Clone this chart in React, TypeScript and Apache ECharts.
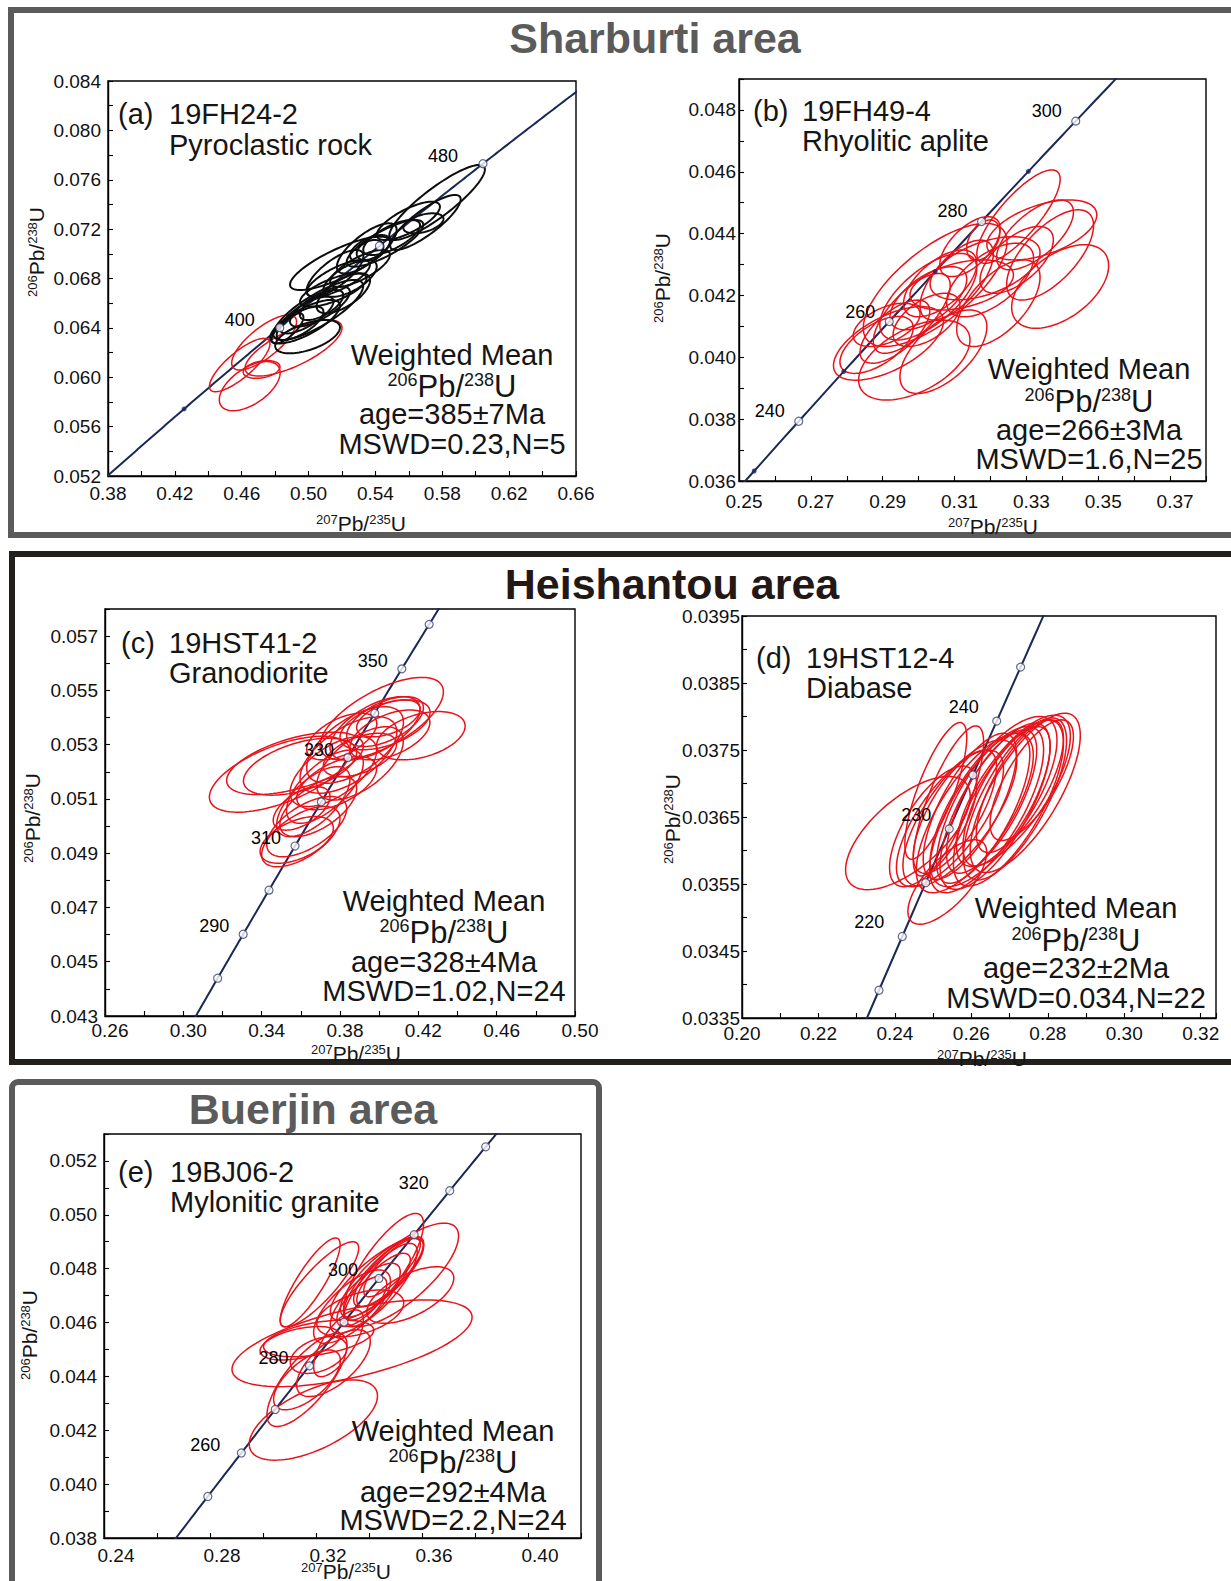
import React, { useEffect, useRef } from 'react';
import * as echarts from 'echarts';

const FONT = '"Liberation Sans", Arial, Helvetica, sans-serif';
const RED = '#e8121a';
const NAVY = '#1b2756';

// U-Pb decay constants (per year) used to draw the concordia reference curve
const LAMBDA_238 = 1.55125e-10;
const LAMBDA_235 = 9.8485e-10;

// axis ranges [min, max, tick step]
const xAxisA = [0.38, 0.66, 0.02];
const yAxisA = [0.052, 0.084, 0.002];
const xAxisB = [0.25, 0.38, 0.01];
const yAxisB = [0.036, 0.049, 0.001];
const xAxisC = [0.26, 0.5, 0.02];
const yAxisC = [0.043, 0.058, 0.001];
const xAxisD = [0.2, 0.324, 0.01];
const yAxisD = [0.0335, 0.0395, 0.0005];
const xAxisE = [0.24, 0.42, 0.02];
const yAxisE = [0.038, 0.053, 0.001];

// concordia age span (Ma)
const spanA = [320, 520];
const spanB = [220, 320];
const spanC = [260, 370];
const spanD = [205, 255];
const spanE = [235, 340];

// concordia age markers (Ma)
const circlesA = [400, 440, 480];
const dotsA = [360];
const labelsA = [400, 480];
const circlesB = [240, 260, 280, 300];
const dotsB = [230, 250, 270, 290];
const labelsB = [240, 260, 280, 300];
const circlesC = [280, 290, 300, 310, 320, 330, 340, 350, 360];
const labelsC = [290, 310, 330, 350];
const circlesD = [215, 220, 225, 230, 235, 240, 245];
const labelsD = [220, 230, 240];
const circlesE = [250, 260, 270, 280, 290, 300, 310, 320, 330];
const labelsE = [260, 280, 300, 320];

// error ellipses: [207Pb/235U, 206Pb/238U, x half-width, y half-width, rho]
const ellipsesARed = [
  [0.4588, 0.06099, 0.0181, 0.00216, 0.8],
  [0.4648, 0.05928, 0.0182, 0.00199, 0.55],
  [0.4734, 0.06282, 0.0194, 0.00223, 0.75],
  [0.4719, 0.06063, 0.011, 0.00072, 0.3],
  [0.491, 0.06237, 0.029, 0.00227, 0.72],
];
const ellipsesABlack = [
  [0.5769, 0.07416, 0.0286, 0.00304, 0.88],
  [0.5699, 0.07254, 0.0211, 0.00223, 0.84],
  [0.5597, 0.07267, 0.0189, 0.00155, 0.74],
  [0.5497, 0.07132, 0.017, 0.00142, 0.7],
  [0.5188, 0.06923, 0.0299, 0.00216, 0.8],
  [0.5368, 0.07044, 0.012, 0.00108, 0.55],
  [0.5368, 0.07031, 0.008, 0.00081, 0.35],
  [0.5308, 0.06882, 0.0179, 0.00149, 0.74],
  [0.5178, 0.06801, 0.0189, 0.00149, 0.74],
  [0.5148, 0.06707, 0.0199, 0.00135, 0.7],
  [0.5058, 0.06545, 0.0269, 0.00243, 0.8],
  [0.4979, 0.0645, 0.0209, 0.00176, 0.74],
  [0.4994, 0.06329, 0.0194, 0.00135, 0.55],
  [0.4874, 0.06396, 0.0095, 0.00122, 0.74],
  [0.5068, 0.06572, 0.0179, 0.00162, 0.74],
  [0.5208, 0.0668, 0.016, 0.00162, 0.65],
  [0.5158, 0.06842, 0.017, 0.00189, 0.74],
  [0.5348, 0.07044, 0.0179, 0.00203, 0.74],
  [0.4949, 0.06437, 0.014, 0.00135, 0.7],
  [0.5248, 0.06801, 0.016, 0.00149, 0.65],
  [0.5687, 0.07247, 0.012, 0.00081, 0.45],
  [0.4989, 0.06504, 0.016, 0.00149, 0.74],
  [0.5078, 0.06585, 0.013, 0.00122, 0.65],
  [0.5457, 0.07085, 0.0229, 0.00189, 0.8],
];
const ellipsesB = [
  [0.2916, 0.04045, 0.0153, 0.00119, 0.6],
  [0.2988, 0.03991, 0.0155, 0.00129, 0.5],
  [0.3069, 0.04018, 0.0121, 0.00135, 0.6],
  [0.3222, 0.04175, 0.0116, 0.0014, 0.6],
  [0.3394, 0.04229, 0.0135, 0.00135, 0.5],
  [0.3278, 0.04455, 0.0116, 0.00151, 0.8],
  [0.3343, 0.04412, 0.0153, 0.00097, 0.5],
  [0.3366, 0.04331, 0.0121, 0.00146, 0.65],
  [0.3046, 0.04234, 0.02, 0.00199, 0.7],
  [0.3027, 0.04196, 0.0135, 0.0014, 0.65],
  [0.3027, 0.04191, 0.0107, 0.00102, 0.6],
  [0.306, 0.04239, 0.0102, 0.00108, 0.6],
  [0.3106, 0.0425, 0.0102, 0.00129, 0.65],
  [0.3143, 0.04358, 0.0084, 0.00097, 0.6],
  [0.318, 0.04379, 0.0046, 0.00065, 0.4],
  [0.2981, 0.04142, 0.0107, 0.00129, 0.7],
  [0.2934, 0.04083, 0.0097, 0.00102, 0.65],
  [0.312, 0.04234, 0.0144, 0.00081, 0.4],
  [0.3185, 0.04288, 0.0153, 0.00102, 0.5],
  [0.3273, 0.04315, 0.0102, 0.00108, 0.6],
  [0.2911, 0.04105, 0.0093, 0.0007, 0.5],
  [0.3022, 0.04121, 0.0093, 0.00086, 0.55],
  [0.3199, 0.0425, 0.0121, 0.00119, 0.6],
  [0.3324, 0.04396, 0.0107, 0.00113, 0.65],
  [0.2883, 0.0404, 0.0102, 0.00092, 0.6],
];
const ellipsesC = [
  [0.4013, 0.05396, 0.0315, 0.00152, 0.65],
  [0.4213, 0.05333, 0.0226, 0.00089, 0.4],
  [0.3492, 0.05191, 0.0359, 0.0014, 0.6],
  [0.357, 0.05231, 0.0349, 0.00115, 0.55],
  [0.3596, 0.05219, 0.0289, 0.00105, 0.5],
  [0.36, 0.04961, 0.02, 0.00111, 0.6],
  [0.363, 0.04998, 0.0204, 0.00111, 0.6],
  [0.3689, 0.05072, 0.0196, 0.00111, 0.6],
  [0.3979, 0.0536, 0.023, 0.00117, 0.6],
  [0.403, 0.05373, 0.023, 0.00092, 0.5],
  [0.403, 0.05385, 0.0196, 0.00092, 0.55],
  [0.3843, 0.05262, 0.0247, 0.00141, 0.6],
  [0.3766, 0.05201, 0.0221, 0.00129, 0.6],
  [0.3877, 0.05299, 0.0247, 0.00141, 0.6],
  [0.3902, 0.05231, 0.0221, 0.00135, 0.6],
  [0.3723, 0.05145, 0.0196, 0.00135, 0.65],
  [0.3664, 0.0509, 0.0187, 0.00129, 0.65],
  [0.4055, 0.05336, 0.0204, 0.00092, 0.5],
  [0.3902, 0.05262, 0.0187, 0.0008, 0.5],
  [0.3783, 0.05158, 0.0204, 0.00098, 0.55],
  [0.4047, 0.05397, 0.0162, 0.00068, 0.5],
  [0.3579, 0.04949, 0.0187, 0.00086, 0.5],
  [0.3604, 0.05065, 0.0145, 0.0008, 0.55],
  [0.3809, 0.0533, 0.0179, 0.00086, 0.55],
];
const ellipsesD = [
  [0.2434, 0.03626, 0.0163, 0.000845, 0.65],
  [0.2507, 0.03689, 0.0081, 0.00102, 0.78],
  [0.254, 0.03674, 0.0092, 0.00112, 0.78],
  [0.2537, 0.03553, 0.0103, 0.00063, 0.7],
  [0.2741, 0.03686, 0.0144, 0.00119, 0.72],
  [0.2714, 0.03677, 0.0135, 0.00121, 0.72],
  [0.2697, 0.03671, 0.0144, 0.00124, 0.72],
  [0.2662, 0.03666, 0.0144, 0.00124, 0.72],
  [0.264, 0.03661, 0.0149, 0.00124, 0.72],
  [0.2609, 0.03656, 0.0153, 0.00119, 0.72],
  [0.257, 0.03656, 0.0149, 0.00109, 0.72],
  [0.2544, 0.03648, 0.014, 0.00102, 0.72],
  [0.271, 0.03689, 0.0149, 0.00113, 0.72],
  [0.2727, 0.03696, 0.0114, 0.00099, 0.72],
  [0.2653, 0.03673, 0.0118, 0.00107, 0.72],
  [0.2557, 0.03658, 0.0109, 0.00092, 0.72],
  [0.2596, 0.03666, 0.0122, 0.00109, 0.72],
  [0.2631, 0.03663, 0.0122, 0.00112, 0.72],
  [0.2758, 0.03705, 0.0109, 0.0009, 0.72],
  [0.25, 0.03636, 0.0114, 0.0009, 0.68],
  [0.2692, 0.03681, 0.0114, 0.00104, 0.72],
  [0.2658, 0.03673, 0.0166, 0.00127, 0.72],
];
const ellipsesE = [
  [0.3455, 0.04807, 0.0151, 0.00198, 0.8],
  [0.3178, 0.04749, 0.0113, 0.00165, 0.85],
  [0.3213, 0.04742, 0.0148, 0.00158, 0.85],
  [0.3336, 0.04523, 0.0453, 0.00161, 0.6],
  [0.3556, 0.04702, 0.0164, 0.00105, 0.6],
  [0.3521, 0.04777, 0.0217, 0.00192, 0.75],
  [0.319, 0.04238, 0.0242, 0.00149, 0.6],
  [0.3166, 0.04387, 0.0151, 0.00173, 0.75],
  [0.321, 0.04479, 0.0107, 0.00068, 0.4],
  [0.314, 0.04523, 0.0151, 0.00062, 0.45],
  [0.321, 0.04541, 0.0208, 0.00068, 0.45],
  [0.343, 0.04761, 0.0176, 0.00152, 0.8],
  [0.3449, 0.0477, 0.0157, 0.00149, 0.8],
  [0.3474, 0.04789, 0.0132, 0.0013, 0.8],
  [0.3386, 0.0469, 0.0132, 0.0013, 0.75],
  [0.3373, 0.04678, 0.0094, 0.00093, 0.7],
  [0.3455, 0.04758, 0.0101, 0.00099, 0.75],
  [0.3487, 0.04804, 0.0107, 0.00108, 0.8],
  [0.3367, 0.04634, 0.0164, 0.00087, 0.45],
  [0.3285, 0.04523, 0.0094, 0.00124, 0.7],
  [0.3166, 0.04387, 0.0126, 0.00111, 0.65],
  [0.3266, 0.04449, 0.0139, 0.00124, 0.65],
  [0.3443, 0.04739, 0.0139, 0.00155, 0.8],
  [0.3336, 0.04659, 0.0145, 0.00136, 0.7],
];

// texts
const areaTitles = ['Sharburti area', 'Heishantou area', 'Buerjin area'];
const panelTags = ['(a)', '(b)', '(c)', '(d)', '(e)'];
const sampleIds = ['19FH24-2', '19FH49-4', '19HST41-2', '19HST12-4', '19BJ06-2'];
const rockTypes = ['Pyroclastic rock', 'Rhyolitic aplite', 'Granodiorite', 'Diabase', 'Mylonitic granite'];
const meanAges = ['385±7Ma', '266±3Ma', '328±4Ma', '232±2Ma', '292±4Ma'];
const mswdValues = ['0.23', '1.6', '1.02', '0.034', '2.2'];
const nValues = ['5', '25', '24', '22', '24'];

function concordia(tMa: number): number[] {
  const t = tMa * 1e6;
  return [Math.exp(LAMBDA_235 * t) - 1, Math.exp(LAMBDA_238 * t) - 1];
}

function agesBetween(span: number[]): number[] {
  const out: number[] = [];
  for (let t = span[0]; t <= span[1]; t += 1) out.push(t);
  return out;
}

const layout = [
  { grid: { left: 108, top: 81, width: 468, height: 395 }, x: xAxisA, y: yAxisA, xDec: 2, yDec: 3, xMargin: 8, xShift: 0, yMargin: 7,
    ell: [[ellipsesARed, RED, 1.5], [ellipsesABlack, '#0d0d0d', 2]], span: spanA, circles: circlesA, dots: dotsA, labels: labelsA, off: [-40, -8],
    tag: [118, 114], id: [169, 114], rock: [169, 145], wm: [452, 355, 386, 414, 444], xt: [361, 523], yt: [36, 252] },
  { grid: { left: 739, top: 79, width: 467, height: 402 }, x: xAxisB, y: yAxisB, xDec: 2, yDec: 3, xMargin: 11, xShift: 5, yMargin: 3,
    ell: [[ellipsesB, RED, 1.5]], span: spanB, circles: circlesB, dots: dotsB, labels: labelsB, off: [-29, -10],
    tag: [753, 111], id: [802, 111], rock: [802, 141], wm: [1089, 369, 401, 430, 459], xt: [993, 526], yt: [662, 278] },
  { grid: { left: 105, top: 609, width: 470, height: 407 }, x: xAxisC, y: yAxisC, xDec: 2, yDec: 3, xMargin: 5, xShift: 5, yMargin: 7,
    ell: [[ellipsesC, RED, 1.5]], span: spanC, circles: circlesC, dots: [], labels: labelsC, off: [-29, -8],
    tag: [121, 643], id: [169, 643], rock: [169, 673], wm: [444, 901, 932, 962, 991], xt: [356, 1053], yt: [32, 818] },
  { grid: { left: 742, top: 616, width: 474, height: 402 }, x: xAxisD, y: yAxisD, xDec: 2, yDec: 4, xMargin: 6, xShift: 0, yMargin: 2,
    ell: [[ellipsesD, RED, 1.5]], span: spanD, circles: circlesD, dots: [], labels: labelsD, off: [-33, -14],
    tag: [756, 658], id: [806, 658], rock: [806, 688], wm: [1076, 908, 940, 968, 998], xt: [982, 1058], yt: [672, 819] },
  { grid: { left: 104, top: 1134, width: 477, height: 404 }, x: xAxisE, y: yAxisE, xDec: 2, yDec: 3, xMargin: 8, xShift: 12, yMargin: 7,
    ell: [[ellipsesE, RED, 1.5]], span: spanE, circles: circlesE, dots: [], labels: labelsE, off: [-36, -8],
    tag: [118, 1172], id: [170, 1172], rock: [170, 1202], wm: [453, 1431, 1462, 1492, 1520], xt: [346, 1571], yt: [29, 1335] },
];

function labelFormatter(range: number[], dec: number) {
  const [min, , step] = range;
  return (v: number) => {
    const k = (v - min) / step;
    const r = Math.round(k);
    if (Math.abs(k - r) > 1e-6 || r % 2 !== 0) return '';
    return v.toFixed(dec);
  };
}

function makeAxis(idx: number, range: number[], dec: number, margin: number, shift: number) {
  return {
    type: 'value',
    gridIndex: idx,
    min: range[0],
    max: range[1],
    interval: range[2],
    axisLine: { show: true, onZero: false, lineStyle: { color: '#000', width: 1.4 } },
    axisTick: { show: true, inside: true, length: 5, lineStyle: { color: '#000', width: 1.1 } },
    splitLine: { show: false },
    axisLabel: {
      formatter: labelFormatter(range, dec),
      fontSize: 19,
      fontFamily: FONT,
      color: '#111',
      margin,
      padding: shift ? [0, 0, 0, shift * 2] : 0,
    },
  };
}

function txt(x: number, y: number, text: string, fontSize: number, align = 'left', extra: any = {}) {
  return {
    type: 'text',
    x,
    y,
    silent: true,
    z: 20,
    style: {
      text,
      fontSize,
      fontFamily: FONT,
      fill: extra.fill || '#151515',
      fontWeight: extra.fontWeight || 'normal',
      textAlign: align,
      align,
      textVerticalAlign: 'middle',
      verticalAlign: 'middle',
    },
  };
}

function richRatio(x: number, y: number, a: string, b: string, sup: number, main: number, rotate = false) {
  const el: any = {
    type: 'text',
    x,
    y,
    silent: true,
    z: 20,
    style: {
      text: `{s|${a}}{m|Pb/}{s|${b}}{m|U}`,
      fontFamily: FONT,
      fill: '#151515',
      textAlign: 'center',
      align: 'center',
      textVerticalAlign: 'middle',
      verticalAlign: 'middle',
      rich: {
        s: { fontSize: sup, fontFamily: FONT, fill: '#151515', verticalAlign: 'top', lineHeight: main },
        m: { fontSize: main, fontFamily: FONT, fill: '#151515', verticalAlign: 'bottom', lineHeight: main },
      },
    },
  };
  if (rotate) el.rotation = Math.PI / 2;
  return el;
}

function buildOption() {
  const grids: any[] = [];
  const xAxes: any[] = [];
  const yAxes: any[] = [];
  const series: any[] = [];
  const graphic: any[] = [];

  graphic.push({ type: 'rect', silent: true, z: 1, shape: { x: 11, y: 10, width: 1260, height: 525 }, style: { fill: 'none', stroke: '#5b5b5b', lineWidth: 6 } });
  graphic.push({ type: 'rect', silent: true, z: 1, shape: { x: 12, y: 554, width: 1260, height: 508 }, style: { fill: 'none', stroke: '#231f1d', lineWidth: 6 } });
  graphic.push({ type: 'rect', silent: true, z: 1, shape: { x: 12, y: 1082, width: 587, height: 540, r: 6 }, style: { fill: 'none', stroke: '#5b5b5b', lineWidth: 6 } });
  graphic.push(txt(655, 38, areaTitles[0], 43, 'center', { fontWeight: 'bold', fill: '#5b5b5b' }));
  graphic.push(txt(672, 584, areaTitles[1], 43, 'center', { fontWeight: 'bold', fill: '#231815' }));
  graphic.push(txt(313, 1109, areaTitles[2], 43, 'center', { fontWeight: 'bold', fill: '#5b5b5b' }));

  layout.forEach((p, i) => {
    grids.push({ ...p.grid, show: true, borderColor: '#000', borderWidth: 1.4, backgroundColor: 'transparent' });
    xAxes.push(makeAxis(i, p.x, p.xDec, p.xMargin, p.xShift));
    yAxes.push(makeAxis(i, p.y, p.yDec, p.yMargin, 0));

    series.push({
      type: 'line',
      xAxisIndex: i,
      yAxisIndex: i,
      data: agesBetween(p.span).map(concordia),
      showSymbol: false,
      symbol: 'none',
      lineStyle: { color: NAVY, width: 2 },
      silent: true,
      clip: true,
      z: 2,
      animation: false,
    });

    p.ell.forEach(([data, color, width]: any) => {
      series.push({
        type: 'custom',
        xAxisIndex: i,
        yAxisIndex: i,
        data,
        encode: { x: 0, y: 1 },
        clip: true,
        silent: true,
        z: 3,
        renderItem: (_params: any, api: any) => {
          const cx = api.value(0);
          const cy = api.value(1);
          const sx = api.value(2);
          const sy = api.value(3);
          const r = api.value(4);
          const k = Math.sqrt(1 - r * r);
          const pts: number[][] = [];
          for (let j = 0; j < 96; j++) {
            const t = (j / 96) * Math.PI * 2;
            pts.push(api.coord([cx + sx * Math.cos(t), cy + sy * (r * Math.cos(t) + k * Math.sin(t))]));
          }
          return { type: 'polygon', shape: { points: pts }, style: { fill: 'none', stroke: color, lineWidth: width } };
        },
      });
    });

    const markerData = [
      ...p.dots.map((t: number) => ({ value: concordia(t), symbolSize: 5, itemStyle: { color: NAVY, borderWidth: 0 }, label: { show: false } })),
      ...p.circles.map((t: number) => ({
        value: concordia(t),
        symbolSize: 8,
        itemStyle: { color: '#ffffff', borderColor: '#3a4270', borderWidth: 1.2 },
        label: { show: p.labels.includes(t), formatter: String(t) },
      })),
    ];
    series.push({
      type: 'scatter',
      xAxisIndex: i,
      yAxisIndex: i,
      data: markerData,
      silent: true,
      clip: true,
      z: 6,
      label: { position: 'inside', offset: p.off, color: '#000', fontSize: 18, fontFamily: FONT, textBorderWidth: 0, opacity: 1 },
    });

    graphic.push(txt(p.tag[0], p.tag[1], panelTags[i], 29));
    graphic.push(txt(p.id[0], p.id[1], sampleIds[i], 29));
    graphic.push(txt(p.rock[0], p.rock[1], rockTypes[i], 29));
    const [cx, y1, y2, y3, y4] = p.wm;
    graphic.push(txt(cx, y1, 'Weighted Mean', 29, 'center'));
    graphic.push(richRatio(cx, y2, '206', '238', 18, 31));
    graphic.push(txt(cx, y3, `age=${meanAges[i]}`, 29, 'center'));
    graphic.push(txt(cx, y4, `MSWD=${mswdValues[i]},N=${nValues[i]}`, 29, 'center'));
    graphic.push(richRatio(p.xt[0], p.xt[1], '207', '235', 13, 21));
    graphic.push(richRatio(p.yt[0], p.yt[1], '206', '238', 13, 21, true));
  });

  return {
    animation: false,
    backgroundColor: '#ffffff',
    grid: grids,
    xAxis: xAxes,
    yAxis: yAxes,
    series,
    graphic: { elements: graphic },
  };
}

export default function App() {
  const ref = useRef<HTMLDivElement>(null);
  useEffect(() => {
    document.body.style.margin = '0';
    document.body.style.overflow = 'hidden';
    if (!ref.current) return;
    const chart = echarts.init(ref.current, null, { renderer: 'svg' });
    chart.setOption(buildOption() as any);
    return () => chart.dispose();
  }, []);
  return <div ref={ref} style={{ position: 'absolute', left: 0, top: 0, width: 1231, height: 1581, background: '#fff' }} />;
}
